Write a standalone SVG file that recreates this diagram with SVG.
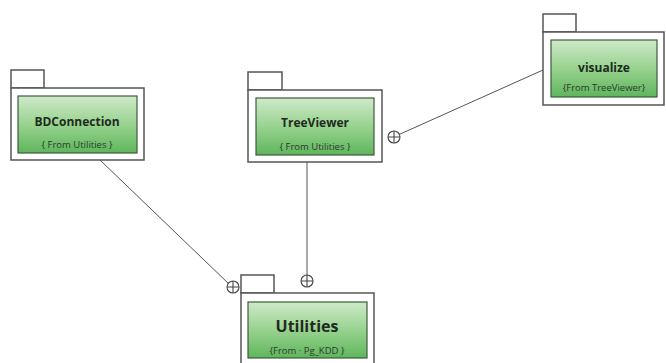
<svg xmlns="http://www.w3.org/2000/svg" width="666" height="363" viewBox="0 0 666 363">
<defs>
<linearGradient id="g" x1="0" y1="0" x2="0" y2="1">
<stop offset="0" stop-color="#cfe9c8"/>
<stop offset="0.55" stop-color="#92d08a"/>
<stop offset="1" stop-color="#5fb55c"/>
</linearGradient>
<g id="cp"><circle r="6" fill="#fff" stroke="#444" stroke-width="1.1"/><path d="M-6 0H6M0 -6V6" stroke="#444" stroke-width="1.1"/></g>
</defs>
<style>
.pk{fill:#fff;stroke:#555;stroke-width:1.5}
.in{fill:url(#g);stroke:#3d5a3d;stroke-width:1.2}
.nm{font-family:"Open Sans","Liberation Sans",sans-serif;font-weight:bold;font-size:12px;fill:#1d2b1d;text-anchor:middle}
.sb{font-family:"Open Sans","Liberation Sans",sans-serif;font-size:9.5px;fill:#2a3a2a;text-anchor:middle}
.cn{stroke:#555;stroke-width:1;fill:none}
</style>
<rect width="666" height="363" fill="#fff"/>
<g id="connectors">
<line class="cn" x1="100" y1="160" x2="229" y2="284"/>
<line class="cn" x1="307" y1="162" x2="307" y2="276"/>
<line class="cn" x1="543" y1="70" x2="398" y2="135"/>
<use href="#cp" x="233" y="287"/>
<use href="#cp" x="307" y="281"/>
<use href="#cp" x="394" y="137"/>
</g>
<g id="BDConnection">
<rect class="pk" x="11" y="70" width="33" height="18"/>
<rect class="pk" x="11" y="88" width="133" height="72"/>
<rect class="in" x="18" y="96" width="119" height="57"/>
<text class="nm" x="77" y="126">BDConnection</text>
<text class="sb" x="77" y="148">{ From Utilities }</text>
</g>
<g id="TreeViewer">
<rect class="pk" x="248" y="72" width="34" height="18"/>
<rect class="pk" x="248" y="90" width="134" height="72"/>
<rect class="in" x="256" y="98" width="118" height="57"/>
<text class="nm" x="315" y="127">TreeViewer</text>
<text class="sb" x="315" y="150">{ From Utilities }</text>
</g>
<g id="visualize">
<rect class="pk" x="543" y="14" width="33" height="18"/>
<rect class="pk" x="543" y="32" width="121" height="73"/>
<rect class="in" x="551" y="40" width="106" height="57"/>
<text class="nm" x="604" y="72">visualize</text>
<text class="sb" x="604" y="91">{From TreeViewer}</text>
</g>
<g id="Utilities">
<rect class="pk" x="241" y="275" width="33" height="18"/>
<rect class="pk" x="241" y="293" width="133" height="75"/>
<rect class="in" x="248" y="302" width="119" height="56"/>
<text class="nm" x="307" y="332" style="font-size:16px">Utilities</text>
<text class="sb" x="307" y="354">{From · Pg_KDD }</text>
</g>
</svg>
